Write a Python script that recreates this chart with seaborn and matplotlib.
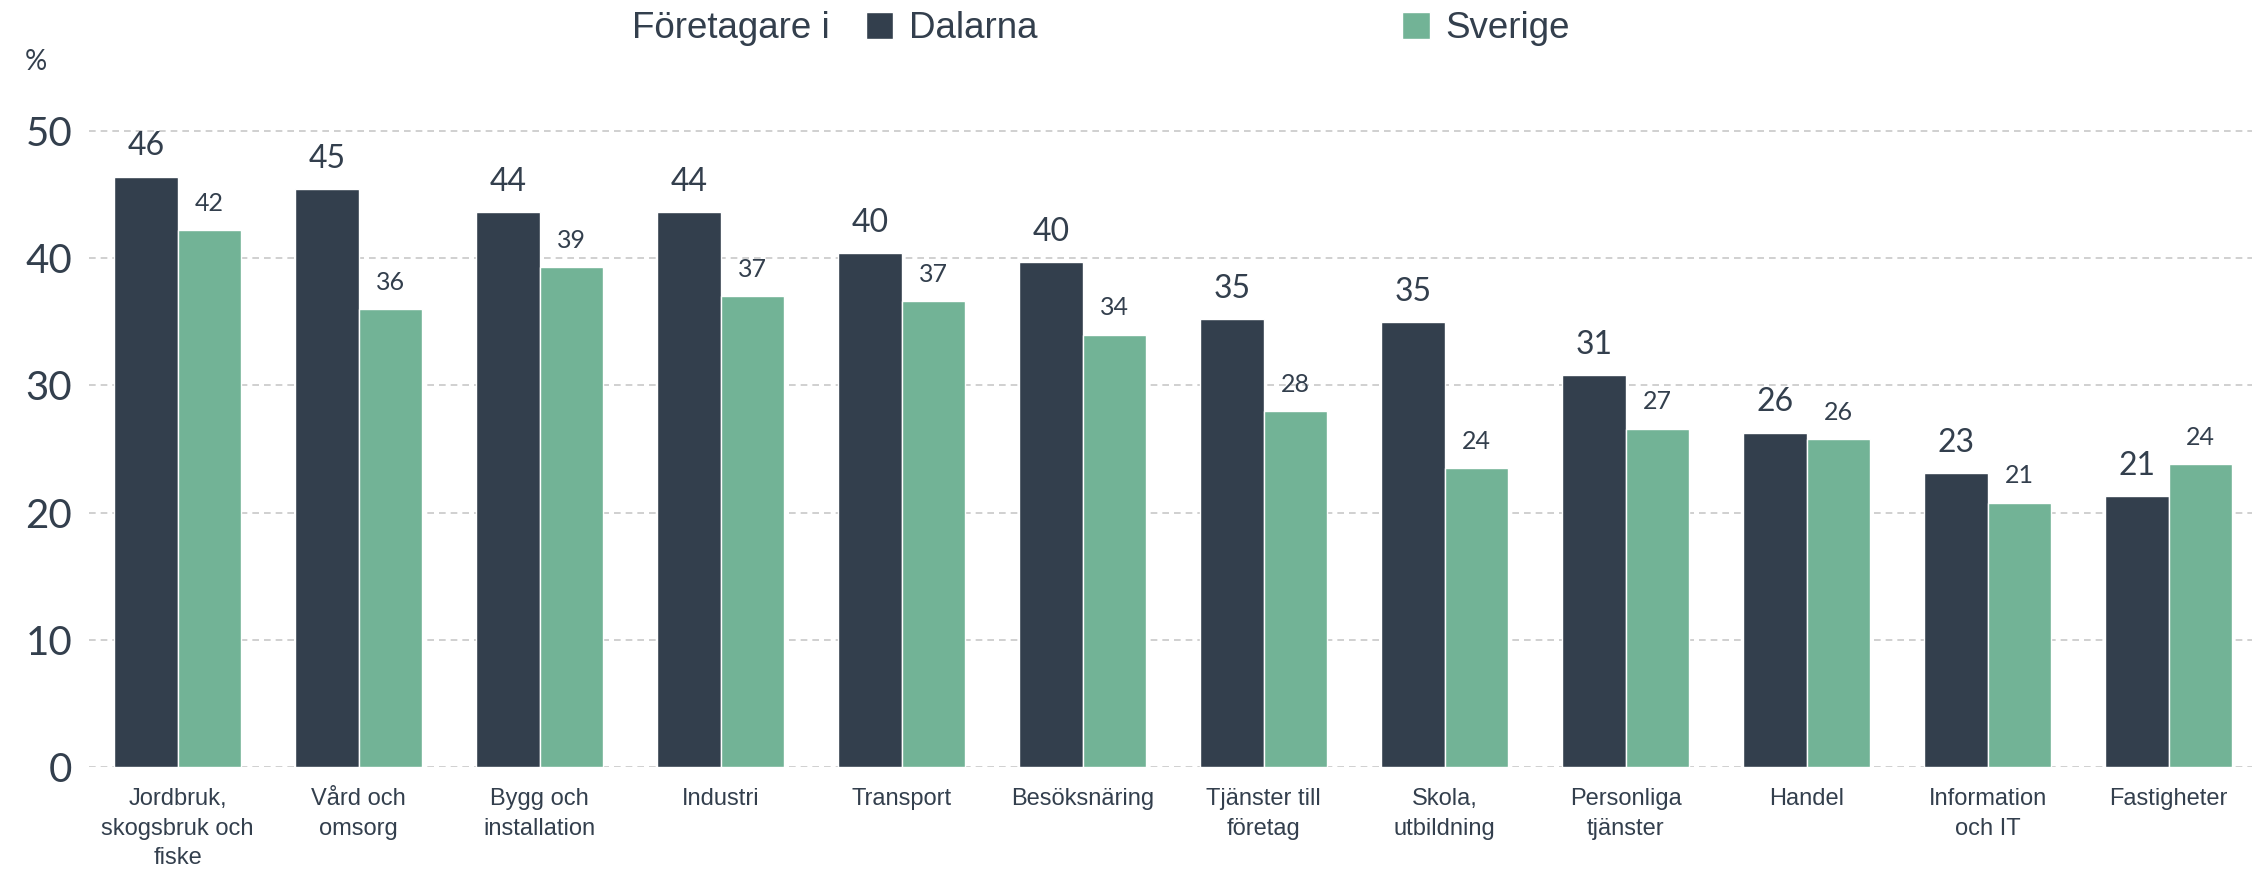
import pandas as pd
import matplotlib.pyplot as plt
import seaborn as sns
from matplotlib.patches import Patch

# =====================
# DATA
# =====================
categories = [
    "Jordbruk,\nskogsbruk och\nfiske", "Vård och\nomsorg", "Bygg och\ninstallation",
    "Industri", "Transport", "Besöksnäring", "Tjänster till\nföretag",
    "Skola,\nutbildning", "Personliga\ntjänster", "Handel",
    "Information\noch IT", "Fastigheter",
]
dalarna = [46.4, 45.4, 43.6, 43.6, 40.4, 39.7, 35.2, 35.0, 30.8, 26.3, 23.1, 21.3]
sverige = [42.2, 36.0, 39.3, 37.0, 36.6, 34.0, 28.0, 23.5, 26.6, 25.8, 20.8, 23.8]
series = ["Dalarna", "Sverige"]
yticks = [0, 10, 20, 30, 40, 50]

dark = "#333f4d"
green = "#72b396"

df = pd.DataFrame({
    "Bransch": categories * 2,
    "Region": [series[0]] * len(categories) + [series[1]] * len(categories),
    "Andel": dalarna + sverige,
})

# =====================
# PLOT
# =====================
sns.set_style("white")
plt.rcParams['font.family'] = ['Liberation Sans', 'DejaVu Sans']

fig = plt.figure(figsize=(22.52, 8.71), dpi=100)
ax = fig.add_axes([0.0395, 0.119, 0.9605, 0.738])

sns.barplot(data=df, x="Bransch", y="Andel", hue="Region",
            palette=[dark, green], width=0.70, saturation=1,
            legend=False, ax=ax)

ax.set_xlim(-0.49, 11.46)
ax.set_ylim(0, 50.5)
ax.set_yticks(yticks)
ax.set_xlabel("")
ax.set_ylabel("")
for s in ax.spines.values():
    s.set_visible(False)
ax.grid(axis="y", color="#c8c8c8", linestyle=(0, (4, 3)), linewidth=1.2)
ax.set_axisbelow(True)
ax.tick_params(axis="y", length=0, pad=12, labelsize=29, labelcolor=dark)
ax.tick_params(axis="x", length=0, pad=15, labelsize=17, labelcolor=dark)
for lbl in ax.get_yticklabels():
    lbl.set_family("Lato")
for lbl in ax.get_xticklabels():
    lbl.set_linespacing(1.45)

# value labels
ax.bar_label(ax.containers[0], labels=[f"{v:.0f}" for v in dalarna],
             padding=11, fontsize=23, color=dark, family="Lato")
ax.bar_label(ax.containers[1], labels=[f"{v:.0f}" for v in sverige],
             padding=11, fontsize=18, color=dark, family="Lato")

# legend
fig.text(632 / 2252, 1 - 29 / 871, "Företagare i", fontsize=26.5, color=dark,
         ha="left", va="center")
handles = [Patch(facecolor=dark, label=series[0]), Patch(facecolor=green, label=series[1])]
leg = fig.legend(handles=handles, loc="center left", ncol=2, frameon=False,
                 bbox_to_anchor=(851 / 2252, 1 - 29 / 871), fontsize=26.5,
                 handlelength=0.75, handleheight=0.75, handletextpad=0.43,
                 columnspacing=9.9, borderaxespad=0)
for t in leg.get_texts():
    t.set_color(dark)

fig.text(36 / 2252, 1 - 62 / 871, "%", fontsize=20, color=dark, ha="center", va="center",
         family="Lato")

plt.savefig("out.png", dpi=100)
plt.close()
